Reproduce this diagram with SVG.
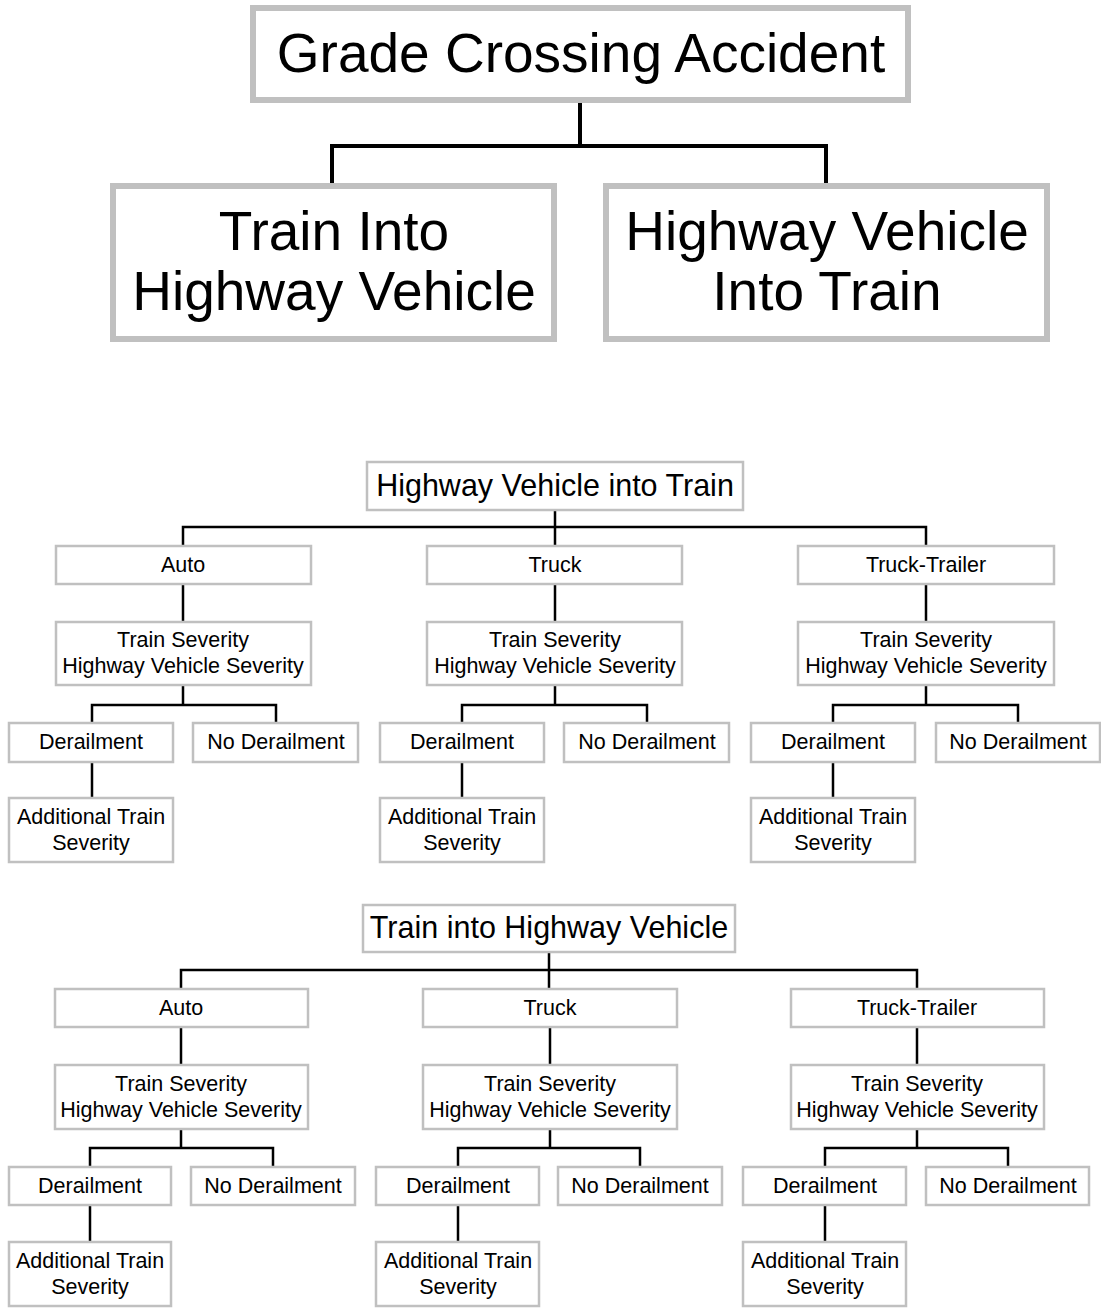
<svg xmlns="http://www.w3.org/2000/svg" width="1101" height="1308" viewBox="0 0 1101 1308">
<style>
.big{fill:#fff;stroke:#c0c0c0;stroke-width:6}
.box{fill:#fff;stroke:#c0c0c0;stroke-width:2.5}
.t{font-family:"Liberation Sans",Arial,sans-serif;fill:#000;text-anchor:middle}
.h1{font-size:55px}
.h2{font-size:55px}
.h3{font-size:30.5px}
.s{font-size:21.5px}
.c1{stroke:#000;stroke-width:4;fill:none}
.c2{stroke:#000;stroke-width:2.5;fill:none}
</style>
<rect width="1101" height="1308" fill="#fff"/>
<g id="connectors">
<path class="c1" d="M580,103V146M332,183V146H826V183"/>
<path class="c2" d="M555,511V545M183,545V527H926V545M183,585V621M555,585V621M926,585V621"/>
<path class="c2" d="M183,686V705M92,722V705H276V722M92,763V797"/>
<path class="c2" d="M555,686V705M462,722V705H647V722M462,763V797"/>
<path class="c2" d="M926,686V705M833,722V705H1018V722M833,763V797"/>
<path class="c2" d="M549,953V988M181,988V970H917V988M181,1028V1064M550,1028V1064M917,1028V1064"/>
<path class="c2" d="M181,1130V1148M90,1166V1148H273V1166M90,1206V1241"/>
<path class="c2" d="M550,1130V1148M458,1166V1148H640V1166M458,1206V1241"/>
<path class="c2" d="M917,1130V1148M825,1166V1148H1008V1166M825,1206V1241"/>
</g>
<g id="grade"><rect class="big" x="253" y="8" width="655" height="92"/><text class="t h1" x="581" y="72">Grade Crossing Accident</text></g>
<g id="tihv"><rect class="big" x="113" y="186" width="441" height="153"/><text class="t h2" x="334" y="250">Train Into</text><text class="t h2" x="334" y="310">Highway Vehicle</text></g>
<g id="hvit"><rect class="big" x="606" y="186" width="441" height="153"/><text class="t h2" x="827" y="250">Highway Vehicle</text><text class="t h2" x="827" y="310">Into Train</text></g>

<g id="s1-title"><rect class="box" x="367" y="462" width="376" height="48"/><text class="t h3" x="555" y="496">Highway Vehicle into Train</text></g>
<g id="s1-auto"><rect class="box" x="56" y="546" width="255" height="38"/><text class="t s" x="183" y="572">Auto</text></g>
<g id="s1-truck"><rect class="box" x="427" y="546" width="255" height="38"/><text class="t s" x="555" y="572">Truck</text></g>
<g id="s1-tt"><rect class="box" x="798" y="546" width="256" height="38"/><text class="t s" x="926" y="572">Truck-Trailer</text></g>
<g id="s1-sev1"><rect class="box" x="56" y="622" width="255" height="63"/><text class="t s" x="183" y="647">Train Severity</text><text class="t s" x="183" y="673">Highway Vehicle Severity</text></g>
<g id="s1-sev2"><rect class="box" x="427" y="622" width="255" height="63"/><text class="t s" x="555" y="647">Train Severity</text><text class="t s" x="555" y="673">Highway Vehicle Severity</text></g>
<g id="s1-sev3"><rect class="box" x="798" y="622" width="256" height="63"/><text class="t s" x="926" y="647">Train Severity</text><text class="t s" x="926" y="673">Highway Vehicle Severity</text></g>
<g id="s1-d1"><rect class="box" x="9" y="723" width="164" height="39"/><text class="t s" x="91" y="749">Derailment</text></g>
<g id="s1-nd1"><rect class="box" x="193" y="723" width="165" height="39"/><text class="t s" x="276" y="749">No Derailment</text></g>
<g id="s1-d2"><rect class="box" x="380" y="723" width="164" height="39"/><text class="t s" x="462" y="749">Derailment</text></g>
<g id="s1-nd2"><rect class="box" x="564" y="723" width="165" height="39"/><text class="t s" x="647" y="749">No Derailment</text></g>
<g id="s1-d3"><rect class="box" x="751" y="723" width="164" height="39"/><text class="t s" x="833" y="749">Derailment</text></g>
<g id="s1-nd3"><rect class="box" x="936" y="723" width="164" height="39"/><text class="t s" x="1018" y="749">No Derailment</text></g>
<g id="s1-a1"><rect class="box" x="9" y="798" width="164" height="64"/><text class="t s" x="91" y="824">Additional Train</text><text class="t s" x="91" y="850">Severity</text></g>
<g id="s1-a2"><rect class="box" x="380" y="798" width="164" height="64"/><text class="t s" x="462" y="824">Additional Train</text><text class="t s" x="462" y="850">Severity</text></g>
<g id="s1-a3"><rect class="box" x="751" y="798" width="164" height="64"/><text class="t s" x="833" y="824">Additional Train</text><text class="t s" x="833" y="850">Severity</text></g>

<g id="s2-title"><rect class="box" x="363" y="905" width="372" height="47"/><text class="t h3" x="549" y="938">Train into Highway Vehicle</text></g>
<g id="s2-auto"><rect class="box" x="55" y="989" width="253" height="38"/><text class="t s" x="181" y="1015">Auto</text></g>
<g id="s2-truck"><rect class="box" x="423" y="989" width="254" height="38"/><text class="t s" x="550" y="1015">Truck</text></g>
<g id="s2-tt"><rect class="box" x="791" y="989" width="253" height="38"/><text class="t s" x="917" y="1015">Truck-Trailer</text></g>
<g id="s2-sev1"><rect class="box" x="55" y="1065" width="253" height="64"/><text class="t s" x="181" y="1091">Train Severity</text><text class="t s" x="181" y="1117">Highway Vehicle Severity</text></g>
<g id="s2-sev2"><rect class="box" x="423" y="1065" width="254" height="64"/><text class="t s" x="550" y="1091">Train Severity</text><text class="t s" x="550" y="1117">Highway Vehicle Severity</text></g>
<g id="s2-sev3"><rect class="box" x="791" y="1065" width="253" height="64"/><text class="t s" x="917" y="1091">Train Severity</text><text class="t s" x="917" y="1117">Highway Vehicle Severity</text></g>
<g id="s2-d1"><rect class="box" x="9" y="1167" width="162" height="38"/><text class="t s" x="90" y="1193">Derailment</text></g>
<g id="s2-nd1"><rect class="box" x="191" y="1167" width="164" height="38"/><text class="t s" x="273" y="1193">No Derailment</text></g>
<g id="s2-d2"><rect class="box" x="376" y="1167" width="163" height="38"/><text class="t s" x="458" y="1193">Derailment</text></g>
<g id="s2-nd2"><rect class="box" x="558" y="1167" width="164" height="38"/><text class="t s" x="640" y="1193">No Derailment</text></g>
<g id="s2-d3"><rect class="box" x="743" y="1167" width="163" height="38"/><text class="t s" x="825" y="1193">Derailment</text></g>
<g id="s2-nd3"><rect class="box" x="926" y="1167" width="163" height="38"/><text class="t s" x="1008" y="1193">No Derailment</text></g>
<g id="s2-a1"><rect class="box" x="9" y="1242" width="162" height="64"/><text class="t s" x="90" y="1268">Additional Train</text><text class="t s" x="90" y="1294">Severity</text></g>
<g id="s2-a2"><rect class="box" x="376" y="1242" width="163" height="64"/><text class="t s" x="458" y="1268">Additional Train</text><text class="t s" x="458" y="1294">Severity</text></g>
<g id="s2-a3"><rect class="box" x="743" y="1242" width="163" height="64"/><text class="t s" x="825" y="1268">Additional Train</text><text class="t s" x="825" y="1294">Severity</text></g>
</svg>
